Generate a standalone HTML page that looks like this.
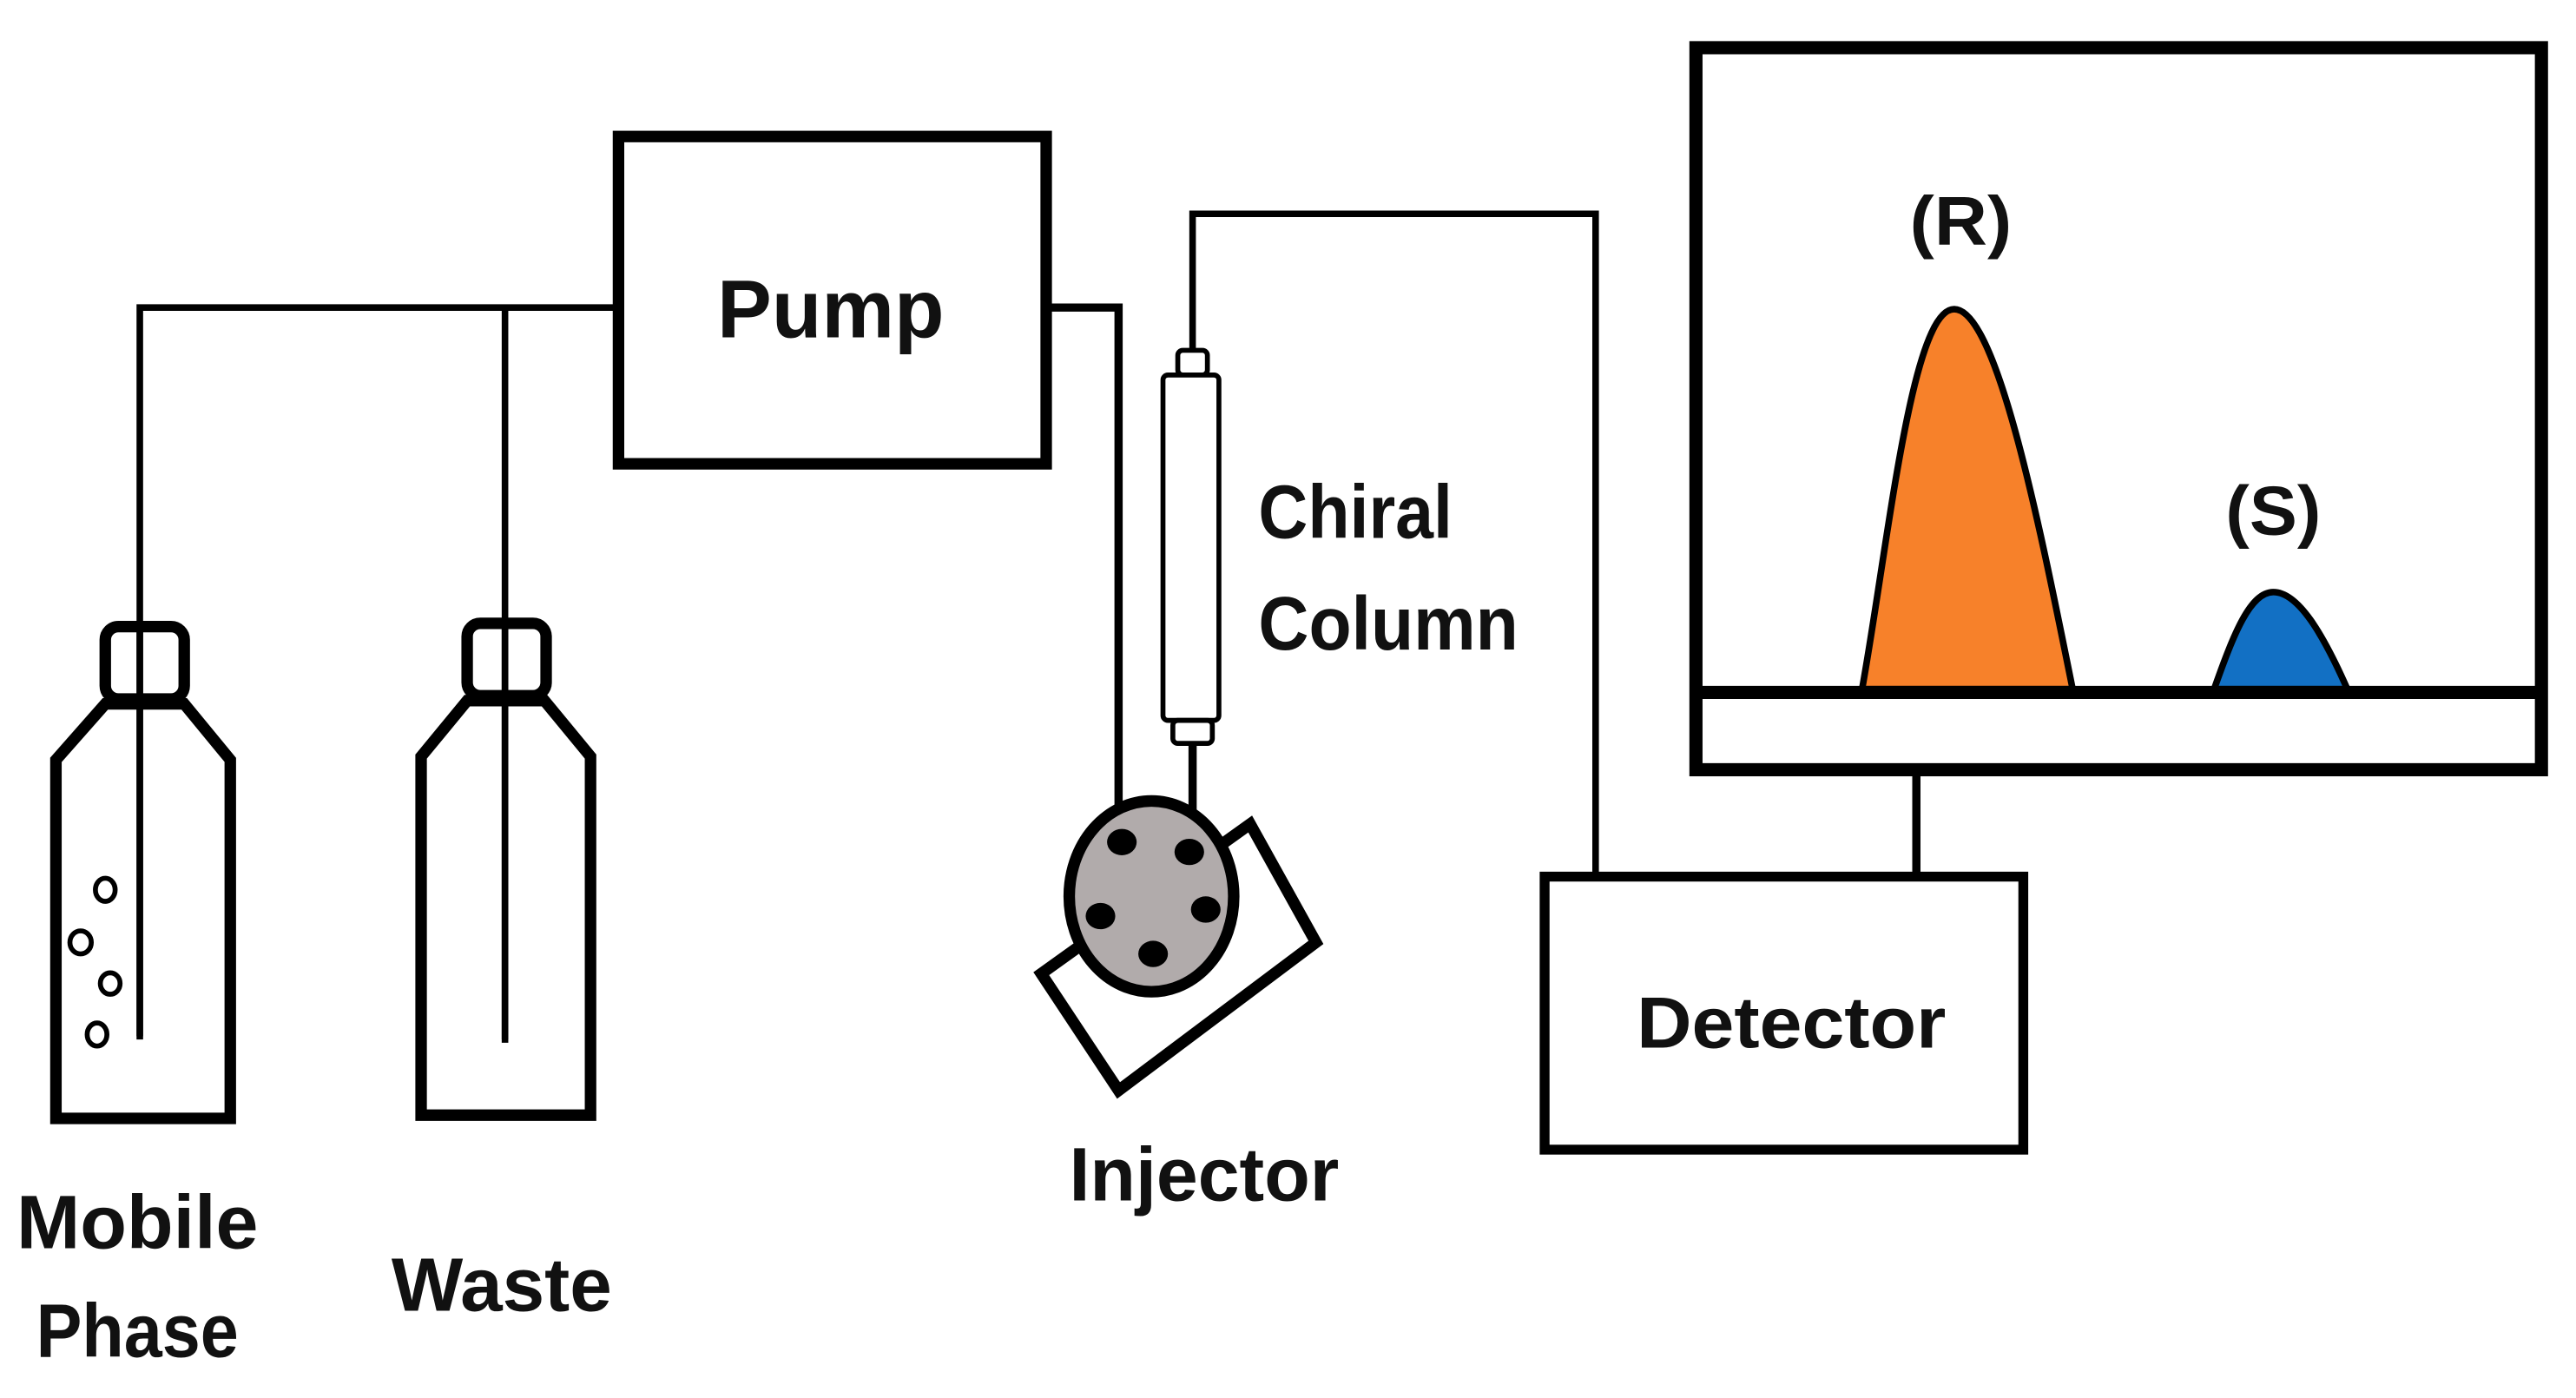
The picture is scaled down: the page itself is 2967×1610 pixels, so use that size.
<!DOCTYPE html>
<html><head><meta charset="utf-8"><style>
html,body{margin:0;padding:0;background:#fff;}
svg{display:block;}
text{font-family:"Liberation Sans",sans-serif;font-weight:bold;fill:#111;}
</style></head><body>
<svg width="2967" height="1610" viewBox="0 0 1566 850" preserveAspectRatio="none" xmlns="http://www.w3.org/2000/svg">
<rect width="1566" height="850" fill="#fff"/>
<g fill="none" stroke="#000" stroke-linejoin="miter">
  <polyline points="85,630 85,187 376,187" stroke-width="4"/>
  <line x1="307" y1="187" x2="307" y2="632" stroke-width="4"/>
  <polyline points="636,187 680,187 680,512" stroke-width="5"/>
  <polyline points="725,215 725,130 970,130 970,532" stroke-width="4"/>
  <line x1="725" y1="450" x2="725" y2="515" stroke-width="5"/>
  <line x1="1165" y1="468" x2="1165" y2="532" stroke-width="5"/>
</g>
<rect x="376" y="83" width="260" height="199" fill="none" stroke="#000" stroke-width="7"/>
<text x="505" y="205" font-size="50" text-anchor="middle" textLength="138" lengthAdjust="spacingAndGlyphs">Pump</text>
<g fill="none" stroke="#000" stroke-width="7">
  <polygon points="34,462 64,428 112,428 140,462 140,680 34,680"/>
  <rect x="64" y="381" width="48" height="44" rx="8"/>
  <polygon points="256,460 284,426 331,426 359,460 359,678 256,678"/>
  <rect x="284" y="379" width="48" height="44" rx="8"/>
</g>
<g fill="none" stroke="#000" stroke-width="3">
  <ellipse cx="64" cy="541" rx="6" ry="7"/>
  <ellipse cx="49" cy="573" rx="6.5" ry="7"/>
  <ellipse cx="67" cy="598" rx="6" ry="6.5"/>
  <ellipse cx="59" cy="629" rx="6" ry="7"/>
</g>
<line x1="85" y1="380" x2="85" y2="632" stroke="#000" stroke-width="4"/>
<line x1="307" y1="378" x2="307" y2="634" stroke="#000" stroke-width="4"/>
<g fill="#fff" stroke="#000" stroke-width="3">
  <rect x="716" y="213" width="18" height="15" rx="3"/>
  <rect x="707" y="228" width="34" height="210" rx="3"/>
  <rect x="713" y="438" width="24" height="14" rx="3"/>
</g>
<polygon points="633,592 680,663 800,573 760,501" fill="#fff" stroke="#000" stroke-width="7"/>
<ellipse cx="700" cy="545" rx="50" ry="58" fill="#b1abab" stroke="#000" stroke-width="7"/>
<g fill="#000">
  <ellipse cx="682" cy="512" rx="9" ry="8"/>
  <ellipse cx="723" cy="518" rx="9" ry="8"/>
  <ellipse cx="669" cy="557" rx="9" ry="8"/>
  <ellipse cx="733" cy="553" rx="9" ry="8"/>
  <ellipse cx="701" cy="580" rx="9" ry="8"/>
</g>
<rect x="939" y="533" width="291" height="166" fill="none" stroke="#000" stroke-width="6"/>
<text x="1089" y="637" font-size="44" text-anchor="middle" textLength="188" lengthAdjust="spacingAndGlyphs">Detector</text>
<rect x="1031" y="29" width="514" height="439" fill="none" stroke="#000" stroke-width="8"/>
<path d="M1132,419 C1148,330 1162,188 1188,188 C1214,188 1240,320 1260,419 Z" fill="#f7812a" stroke="#000" stroke-width="4"/>
<path d="M1346,419 C1358,385 1368,360 1382,360 C1397,360 1412,385 1427,419 Z" fill="#1270c4" stroke="#000" stroke-width="4"/>
<line x1="1031" y1="421" x2="1545" y2="421" stroke="#000" stroke-width="8"/>
<text x="1192" y="149" font-size="42" text-anchor="middle" textLength="62" lengthAdjust="spacingAndGlyphs">(R)</text>
<text x="1382" y="325" font-size="42" text-anchor="middle" textLength="58" lengthAdjust="spacingAndGlyphs">(S)</text>
<text x="765" y="327" font-size="46" textLength="118" lengthAdjust="spacingAndGlyphs">Chiral</text>
<text x="765" y="395" font-size="46" textLength="158" lengthAdjust="spacingAndGlyphs">Column</text>
<text x="650" y="730" font-size="46" textLength="164" lengthAdjust="spacingAndGlyphs">Injector</text>
<text x="10" y="759" font-size="46" textLength="147" lengthAdjust="spacingAndGlyphs">Mobile</text>
<text x="22" y="825" font-size="46" textLength="123" lengthAdjust="spacingAndGlyphs">Phase</text>
<text x="238" y="797" font-size="46" textLength="134" lengthAdjust="spacingAndGlyphs">Waste</text>
</svg>
</body></html>
